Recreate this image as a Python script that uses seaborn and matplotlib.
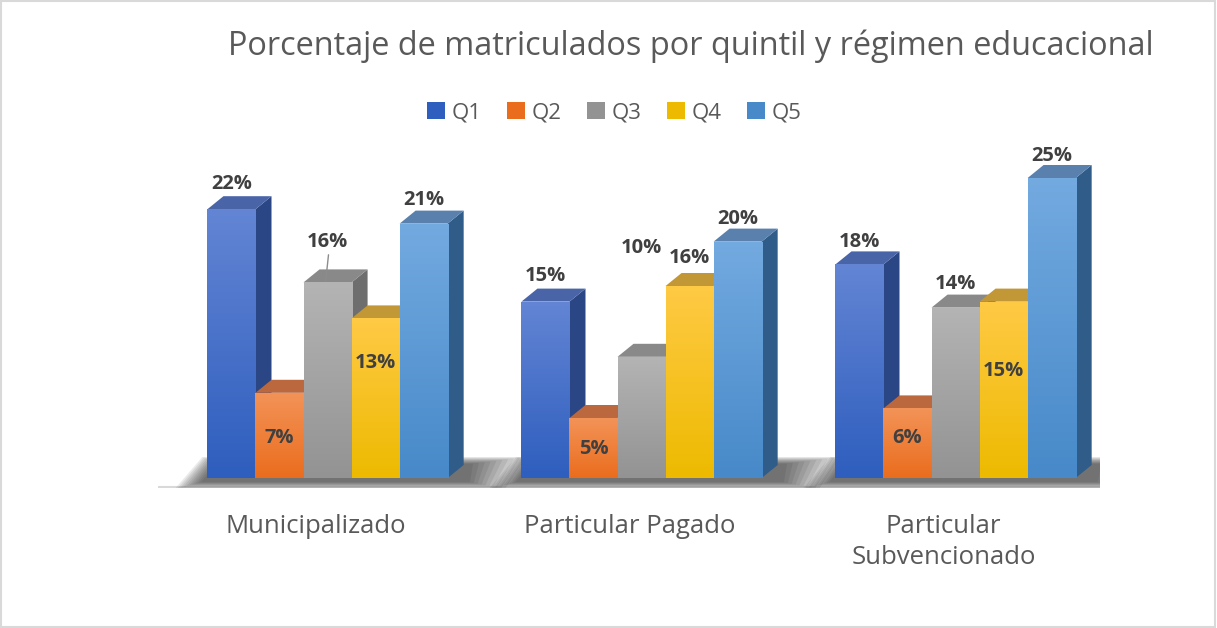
import numpy as np
import pandas as pd
import matplotlib
matplotlib.use("Agg")
import matplotlib.pyplot as plt
import seaborn as sns
from matplotlib.patches import Polygon, Patch, Rectangle
from matplotlib.colors import LinearSegmentedColormap
import matplotlib.transforms as mtransforms

# datos
regimenes = ["Municipalizado", "Particular Pagado", "Particular\nSubvencionado"]
quintiles = ["Q1", "Q2", "Q3", "Q4", "Q5"]
q1 = [22.4, 14.7, 17.8]
q2 = [7.1, 5.0, 5.8]
q3 = [16.3, 10.1, 14.2]
q4 = [13.3, 16.0, 14.7]
q5 = [21.2, 19.7, 25.0]

titulo = "Porcentaje de matriculados por quintil y régimen educacional"

sns.set_theme(style="white")
plt.rcParams['font.family'] = ['Open Sans', 'DejaVu Sans']

# colores estilo Office: (arriba, abajo, lado, tapa)
colores = {
    "Q1": ("#6385D4", "#2E5EBE", "#2B4684", "#4A64A8"),
    "Q2": ("#F39358", "#EA6D1D", "#B3603A", "#BC683E"),
    "Q3": ("#B4B4B4", "#939393", "#6E6E6E", "#898989"),
    "Q4": ("#FFCA45", "#EDBA00", "#B88C2E", "#C29735"),
    "Q5": ("#73AAE0", "#4789C9", "#2F5C88", "#5A80AE"),
}

df = pd.DataFrame({
    "regimen": np.repeat(regimenes, len(quintiles)),
    "quintil": quintiles * len(regimenes),
    "valor": np.array([q1, q2, q3, q4, q5]).T.ravel(),
})

fig = plt.figure(figsize=(12.17, 6.28), dpi=100)
W, H = 1217, 628
ax = fig.add_axes([158 / W, 1 - 488 / H, (1100 - 158) / W, (488 - 150) / H])

pal = {q: colores[q][0] for q in quintiles}
sns.barplot(data=df, x="regimen", y="valor", hue="quintil", hue_order=quintiles,
            order=regimenes, palette=pal, width=0.765, legend=False, ax=ax,
            saturation=1, linewidth=0)

px_x = (1100 - 158) / 3.0          # px por unidad x
ylim = (-10 / 12.0, -10 / 12.0 + (488 - 150) / 12.0)
dx = 16 / px_x
dy = 13 / 12.0

# sombra del piso (difusa)
for g in range(len(regimenes)):
    x0 = g - 0.765 / 2
    x1 = g + 0.765 / 2 + dx
    for s in np.linspace(0.14, 0.0, 10):
        poly = Polygon([(x0 - 0.02 - s * 0.6, -0.35 - s * 4),
                        (x0 + dx * 0.5 - s * 0.3, dy * 1.1 + s * 4),
                        (x1 + 0.03 + s * 1.2, dy * 1.1 + s * 4),
                        (x1 + 0.02 + s * 0.8, -0.35 - s * 4)],
                       closed=True, facecolor="#202020", edgecolor="none",
                       alpha=0.09, zorder=1)
        ax.add_patch(poly)

# caras 3D con degradado
bars = []
for qi, cont in enumerate(ax.containers):
    for p in cont.patches:
        bars.append((p.get_x(), p, quintiles[qi]))
bars.sort(key=lambda t: t[0])

grad = np.linspace(0, 1, 256).reshape(-1, 1)
for i, (x, p, q) in enumerate(bars):
    top, bot, side, tapa = colores[q]
    w = p.get_width()
    h = p.get_height()
    z = 10 + 3 * i
    lado = Polygon([(x + w, 0), (x + w + dx, dy), (x + w + dx, h + dy), (x + w, h)],
                   closed=True, facecolor=side, edgecolor="none", zorder=z)
    ax.add_patch(lado)
    cara = Polygon([(x, h), (x + dx, h + dy), (x + w + dx, h + dy), (x + w, h)],
                   closed=True, facecolor=tapa, edgecolor="none", zorder=z + 1)
    ax.add_patch(cara)
    p.set_zorder(z + 2)
    cmap = LinearSegmentedColormap.from_list(q, [bot, top])
    im = ax.imshow(grad, cmap=cmap, extent=[x, x + w, 0, h], origin="lower",
                   aspect="auto", zorder=z + 2.5)
    im.set_clip_path(p)

ax.set_xlim(-0.54, 2.46)
ax.set_ylim(*ylim)

# etiquetas de datos
label_y = {
    "Q1": [24.5, 16.8, 19.7],
    "Q2": [3.3, 2.4, 3.3],
    "Q3": [19.7, 19.2, 16.2],
    "Q4": [9.6, 18.3, 8.9],
    "Q5": [23.2, 21.6, 26.8],
}
series = {"Q1": q1, "Q2": q2, "Q3": q3, "Q4": q4, "Q5": q5}
for qi, cont in enumerate(ax.containers):
    q = quintiles[qi]
    for g, p in enumerate(cont.patches):
        xc = p.get_x() + p.get_width() / 2
        ax.text(xc, label_y[q][g], f"{series[q][g]:.0f}%", ha="center", va="center",
                fontsize=14.5, fontweight="bold", color="#404040", zorder=100)

# línea guía del 16%
p16 = ax.containers[2].patches[0]
xc = p16.get_x() + p16.get_width() / 2
ax.plot([xc + 0.003, xc - 0.006], [18.6, q3[0] + 0.1], color="#8c8c8c", lw=1, zorder=100)

# eje
for s in ax.spines.values():
    s.set_visible(False)
ax.axhline(ylim[0] + 0.05, color="#D9D9D9", lw=2.2, zorder=0)
ax.set_yticks([])
ax.set_xlabel("")
ax.set_ylabel("")
ax.tick_params(axis="x", length=0, pad=19, labelsize=18.5, labelcolor="#595959")
off = mtransforms.ScaledTranslation(-12 / 100, 0, fig.dpi_scale_trans)
for lab in ax.get_xticklabels():
    lab.set_transform(lab.get_transform() + off)
    lab.set_linespacing(1.3)
    lab.set_verticalalignment("top")

# título
fig.text(691 / W, 1 - 46 / H, titulo, ha="center", va="center", fontsize=23.4, color="#595959")

# leyenda
handles = [Patch(facecolor=colores[q][1], edgecolor="none") for q in quintiles]
fig.legend(handles, quintiles, loc="center", bbox_to_anchor=(614 / W, 1 - 113 / H), ncol=5,
           frameon=False, fontsize=16, labelcolor="#595959", handlelength=0.8,
           handleheight=0.8, handletextpad=0.3, columnspacing=1.15)

# borde
fig.patches.append(Rectangle((0.001, 0.002), 0.997, 0.996, transform=fig.transFigure,
                             fill=False, edgecolor="#D9D9D9", lw=1.5))

fig.savefig("out.png", dpi=100, facecolor="white")
